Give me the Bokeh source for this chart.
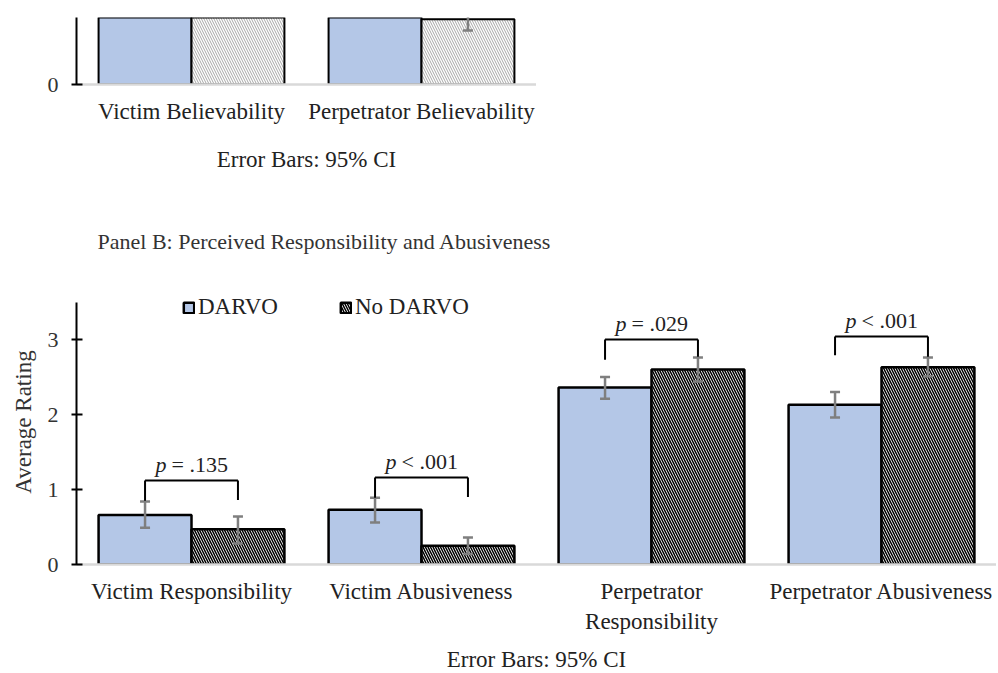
from bokeh.plotting import figure
from bokeh.models import ColumnDataSource, Legend, LegendItem, FactorRange, Range1d, FixedTicker, Title
from bokeh.transform import dodge
from bokeh.layouts import column
from bokeh.embed import file_html
from bokeh.resources import INLINE
from bokeh.core.properties import value

FONT = "Liberation Serif"

# ---------------- data ----------------
# Panel A (only the lower part is visible in the reference)
a_categories = ["Victim Believability", "Perpetrator Believability"]
a_darvo = [2.45, 1.20]
a_darvo_lo = [2.28, 1.04]
a_darvo_hi = [2.62, 1.36]
a_nodarvo = [2.80, 0.87]
a_nodarvo_lo = [2.64, 0.72]
a_nodarvo_hi = [2.96, 1.02]

# Panel B
b_categories = ["Victim Responsibility", "Victim Abusiveness",
                "Perpetrator\nResponsibility", "Perpetrator Abusiveness"]
b_darvo = [0.66, 0.73, 2.36, 2.13]
b_darvo_lo = [0.49, 0.56, 2.21, 1.96]
b_darvo_hi = [0.84, 0.89, 2.50, 2.30]
b_nodarvo = [0.47, 0.25, 2.60, 2.63]
b_nodarvo_lo = [0.28, 0.14, 2.44, 2.51]
b_nodarvo_hi = [0.64, 0.36, 2.76, 2.76]

bracket_top = [1.12, 1.16, 3.00, 3.04]
bracket_left_end = [0.85, 0.89, 2.73, 2.79]
bracket_right_end = [0.86, 0.90, 2.77, 2.77]
p_symbol = ["p", "p", "p", "p"]
p_rest = ["= .135", "< .001", "= .029", "< .001"]

series_names = ["DARVO", "No DARVO"]
y_ticks_b = [0, 1, 2, 3]
error_caption = "Error Bars: 95% CI"
panel_b_title = "Panel B: Perceived Responsibility and Abusiveness"

# ---------------- styles ----------------
BLUE = "#b4c7e7"
ERR = "#7f7f7f"
BW = 0.404
OFF = BW / 2
PX = 75  # pixels per rating unit


def style_axes(p, y_ticks, y_bounds):
    p.grid.visible = False
    p.outline_line_color = None
    p.yaxis.ticker = FixedTicker(ticks=y_ticks)
    p.yaxis.bounds = y_bounds
    p.yaxis.axis_line_color = "black"
    p.yaxis.axis_line_width = 2
    p.yaxis.major_tick_line_color = "black"
    p.yaxis.major_tick_line_width = 2
    p.yaxis.major_tick_in = 6
    p.yaxis.major_tick_out = 5
    p.yaxis.minor_tick_line_color = None
    p.yaxis.major_label_text_font = FONT
    p.yaxis.major_label_text_font_size = "22px"
    p.yaxis.major_label_text_color = "#333333"
    p.yaxis.major_label_standoff = 13
    p.xaxis.axis_line_color = "#d9d9d9"
    p.xaxis.axis_line_width = 2.5
    p.xaxis.major_tick_line_color = None
    p.xaxis.minor_tick_line_color = None
    p.xaxis.major_label_text_font = FONT
    p.xaxis.major_label_text_font_size = "23px"
    p.xaxis.major_label_text_color = "#222222"
    p.xaxis.major_label_standoff = 8
    p.xaxis.axis_label = error_caption
    p.xaxis.axis_label_text_font = FONT
    p.xaxis.axis_label_text_font_size = "23px"
    p.xaxis.axis_label_text_font_style = "normal"
    p.xaxis.axis_label_text_color = "#222222"
    p.xaxis.axis_label_standoff = 20


def draw_bars(p, src, hatch_color, hatch_scale, hatch_weight, lw):
    rd = p.vbar(x=dodge("cat", -OFF, range=p.x_range), top="darvo", width=BW,
                source=src, fill_color=BLUE, line_color="black", line_width=lw)
    rn = p.vbar(x=dodge("cat", OFF, range=p.x_range), top="nodarvo", width=BW,
                source=src, fill_color="white", line_color="black", line_width=lw,
                hatch_pattern="\\", hatch_color=hatch_color,
                hatch_scale=hatch_scale, hatch_weight=hatch_weight)
    for off, lo, hi in ((-OFF, "darvo_lo", "darvo_hi"), (OFF, "nodarvo_lo", "nodarvo_hi")):
        xs = dodge("cat", off, range=p.x_range)
        p.segment(x0=xs, x1=xs, y0=lo, y1=hi, source=src, line_color=ERR, line_width=2.5)
        p.scatter(x=xs, y=lo, source=src, marker="dash", size=10, line_color=ERR, line_width=2.5)
        p.scatter(x=xs, y=hi, source=src, marker="dash", size=10, line_color=ERR, line_width=2.5)
    return rd, rn


# ---------------- Panel A ----------------
srcA = ColumnDataSource(dict(cat=a_categories, darvo=a_darvo, darvo_lo=a_darvo_lo,
                             darvo_hi=a_darvo_hi, nodarvo=a_nodarvo,
                             nodarvo_lo=a_nodarvo_lo, nodarvo_hi=a_nodarvo_hi))
a_top = 67 / PX
pA = figure(x_range=FactorRange(*a_categories), y_range=Range1d(0, a_top),
            frame_width=460, frame_height=67,
            min_border_top=17, min_border_left=76, min_border_right=0,
            min_border_bottom=116,
            output_backend="svg", toolbar_location=None)
style_axes(pA, [0], (0, a_top))
draw_bars(pA, srcA, "#a6a6a6", 5, 1.0, 2)

# ---------------- Panel B ----------------
srcB = ColumnDataSource(dict(cat=b_categories, darvo=b_darvo, darvo_lo=b_darvo_lo,
                             darvo_hi=b_darvo_hi, nodarvo=b_nodarvo,
                             nodarvo_lo=b_nodarvo_lo, nodarvo_hi=b_nodarvo_hi,
                             btop=bracket_top, bl=bracket_left_end, br=bracket_right_end,
                             psym=p_symbol, prest=p_rest))
pB = figure(x_range=FactorRange(*b_categories), y_range=Range1d(0, 3.8),
            frame_width=920, frame_height=285,
            min_border_top=79, min_border_left=76, min_border_right=0,
            min_border_bottom=100,
            output_backend="svg", toolbar_location=None)
pB.title = Title(text=panel_b_title, align="left", offset=21, standoff=52,
                 text_font=FONT, text_font_size="22px", text_font_style="normal",
                 text_color="#333333")
style_axes(pB, y_ticks_b, (0, 3.5))
pB.yaxis.axis_label = "Average Rating"
pB.yaxis.axis_label_text_font = FONT
pB.yaxis.axis_label_text_font_size = "23px"
pB.yaxis.axis_label_text_font_style = "normal"
pB.yaxis.axis_label_text_color = "#333333"
pB.yaxis.axis_label_standoff = 9
pB.xaxis.axis_label_standoff = 10

rd, rn = draw_bars(pB, srcB, "black", 5, 1.5, 2.5)

# significance brackets
xl = dodge("cat", -OFF, range=pB.x_range)
xr = dodge("cat", OFF, range=pB.x_range)
pB.segment(x0=xl, x1=xr, y0="btop", y1="btop", source=srcB, line_color="black", line_width=2)
pB.segment(x0=xl, x1=xl, y0="btop", y1="bl", source=srcB, line_color="black", line_width=2)
pB.segment(x0=xr, x1=xr, y0="btop", y1="br", source=srcB, line_color="black", line_width=2)
xc = dodge("cat", 0, range=pB.x_range)
pB.text(x=xc, y="btop", text="psym", source=srcB, text_font=value(FONT),
        text_font_size="22px", text_font_style="italic", text_align="right",
        text_baseline="alphabetic", x_offset=-25, y_offset=-16, text_color="#222222")
pB.text(x=xc, y="btop", text="prest", source=srcB, text_font=value(FONT),
        text_font_size="22px", text_align="left",
        text_baseline="alphabetic", x_offset=-20, y_offset=-16, text_color="#222222")

legend = Legend(items=[LegendItem(label=series_names[0], renderers=[rd]),
                       LegendItem(label=series_names[1], renderers=[rn])],
                orientation="horizontal", location=(106, 244),
                glyph_width=13, glyph_height=13, label_standoff=3, spacing=61,
                padding=0, margin=0, border_line_alpha=0, background_fill_alpha=0,
                label_text_font=FONT, label_text_font_size="23px",
                label_text_color="#222222")
pB.add_layout(legend)

layout = column(pA, pB, spacing=0)
open("out.html", "w").write(file_html(layout, INLINE))
